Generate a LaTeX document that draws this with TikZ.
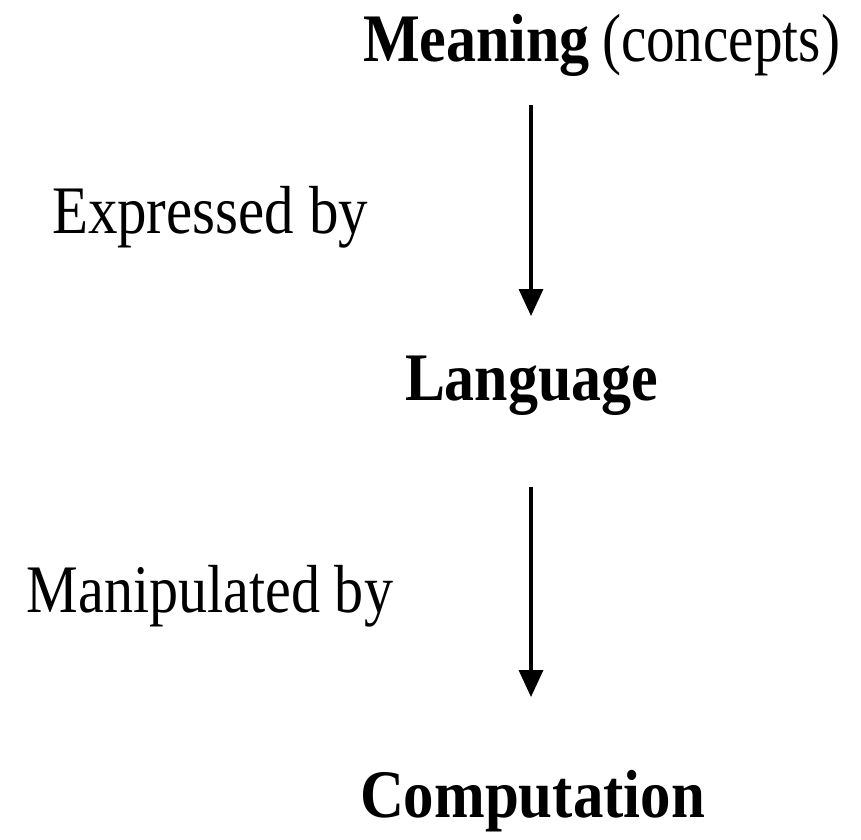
\documentclass[tikz,border=0pt]{standalone}
\usepackage{fontspec}
\setmainfont{Liberation Serif}
\usetikzlibrary{arrows.meta}
\newsavebox\fitbox
\newlength\fitlen
\newcommand\fitw[2]{\sbox\fitbox{#2}\setlength\fitlen{\wd\fitbox}\pgfmathsetmacro\fitfac{#1/\fitlen}\scalebox{\fitfac}[1]{\usebox\fitbox}}
\begin{document}
\begin{tikzpicture}[x=1pt,y=-1pt,
  lbl/.style={anchor=base west,inner sep=0pt,outer sep=0pt,font=\fontsize{68}{72}\selectfont},
  flow/.style={line width=3.4pt,-{Triangle[width=24pt,length=27pt]}}]
\useasboundingbox (0,0) rectangle (861,839);
\node[lbl] (meaning) at (363,61) {\fitw{227pt}{\bfseries Meaning}\hspace{12pt}\fitw{238pt}{(concepts)}};
\node[lbl] (expr) at (52,233) {\fitw{316pt}{Expressed by}};
\node[lbl] (language) at (405,400) {\fitw{253pt}{\bfseries Language}};
\node[lbl] (manip) at (27,612) {\fitw{366pt}{Manipulated by}};
\node[lbl] (comp) at (360,817) {\fitw{345pt}{\bfseries Computation}};
\coordinate (a1s) at (531,105);
\coordinate (a1e) at (531,316);
\coordinate (a2s) at (531,487);
\coordinate (a2e) at (531,697);
\draw[flow] (a1s) -- (a1e);
\draw[flow] (a2s) -- (a2e);
\end{tikzpicture}
\end{document}
